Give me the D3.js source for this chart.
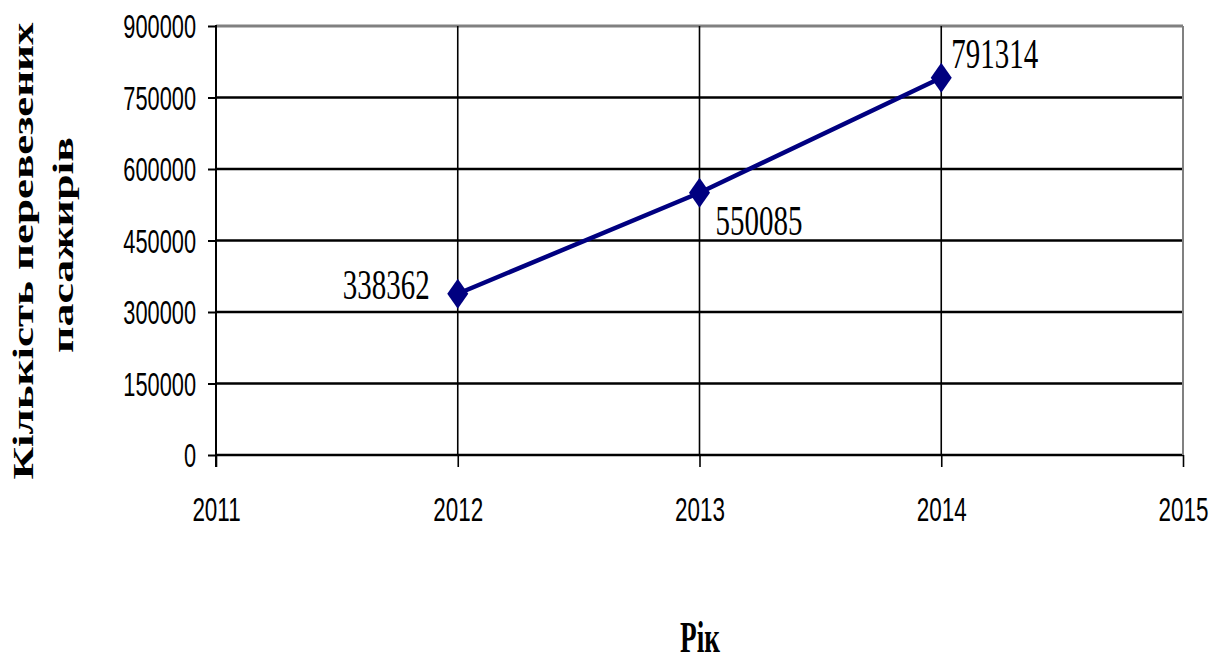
<!DOCTYPE html>
<html><head><meta charset="utf-8">
<script src="https://cdn.jsdelivr.net/npm/d3@7"></script>
<style>body{margin:0;background:#fff}</style>
</head><body>
<svg id="c" width="1222" height="664"></svg>
<script>
const years = [2012, 2013, 2014];
const passengers = [338362, 550085, 791314];
const xTicks = [2011, 2012, 2013, 2014, 2015];
const yTicks = [0, 150000, 300000, 450000, 600000, 750000, 900000];
const yTitleLines = ["Кількість перевезених", "пасажирів"];
const xTitle = "Рік";

const svg = d3.select("#c");
const L = 216, R = 1183, T = 26, B = 455;
const x = d3.scaleLinear().domain([2011, 2015]).range([L, R]);
const y = d3.scaleLinear().domain([0, 900000]).range([B, T]);

// horizontally condense a text element placed at (px,py) via transform
function condense(sel, k) {
  sel.each(function () {
    const s = d3.select(this);
    const px = +s.attr("x") || 0, py = +s.attr("y") || 0;
    s.attr("x", 0).attr("y", 0)
     .attr("transform", `translate(${px},${py}) scale(${k},1)`);
  });
}

// horizontal grid
svg.append("g").selectAll("line").data(yTicks).join("line")
  .attr("x1", L).attr("x2", R)
  .attr("y1", d => y(d)).attr("y2", d => y(d))
  .attr("stroke", d => d === 900000 ? "#808080" : "#000")
  .attr("stroke-width", d => d === 900000 ? 3 : 2.5);

// right border
svg.append("line").attr("x1", R).attr("x2", R).attr("y1", T).attr("y2", B)
  .attr("stroke", "#808080").attr("stroke-width", 2);

// vertical grid
svg.append("g").selectAll("line").data(years).join("line")
  .attr("x1", d => x(d)).attr("x2", d => x(d))
  .attr("y1", T).attr("y2", B)
  .attr("stroke", "#000").attr("stroke-width", 1.6);

// y axis
const gy = svg.append("g").attr("transform", `translate(${L},0)`)
  .call(d3.axisLeft(y).tickValues(yTicks).tickSize(8).tickPadding(12).tickFormat(d3.format("d")));
gy.select(".domain").remove();
gy.selectAll(".tick line").attr("stroke", "#000").attr("stroke-width", 2);
gy.append("line").attr("x1", 0).attr("x2", 0).attr("y1", T - 1).attr("y2", B + 12)
  .attr("stroke", "#000").attr("stroke-width", 2);
gy.selectAll(".tick text")
  .attr("font-family", "'Liberation Sans', Arial, sans-serif")
  .attr("font-size", 33).attr("fill", "#000").attr("dy", "0.36em")
  .call(condense, 0.66);

// x axis
const gx = svg.append("g").attr("transform", `translate(0,${B})`)
  .call(d3.axisBottom(x).tickValues(xTicks).tickSize(12).tickPadding(30).tickFormat(d3.format("d")));
gx.select(".domain").remove();
gx.selectAll(".tick line").attr("stroke", "#000").attr("stroke-width", 1.6);
gx.selectAll(".tick text")
  .attr("font-family", "'Liberation Sans', Arial, sans-serif")
  .attr("font-size", 34).attr("fill", "#000").attr("dy", "0.71em")
  .call(condense, 0.66);

// line
const pts = years.map((yr, i) => ({ yr, v: passengers[i] }));
svg.append("path").datum(pts)
  .attr("d", d3.line().x(d => x(d.yr)).y(d => y(d.v)))
  .attr("fill", "none").attr("stroke", "#000080").attr("stroke-width", 4.5);

// diamonds
svg.append("g").selectAll("path").data(pts).join("path")
  .attr("transform", d => `translate(${x(d.yr)},${y(d.v)})`)
  .attr("d", "M0,-15L10.5,0L0,15L-10.5,0Z")
  .attr("fill", "#000080");

// data labels
const lblOff = [{ dx: -28, dy: 5, a: "end" }, { dx: 16, dy: 42, a: "start" }, { dx: 10, dy: -10, a: "start" }];
svg.append("g").selectAll("text").data(pts).join("text")
  .attr("x", (d, i) => x(d.yr) + lblOff[i].dx)
  .attr("y", (d, i) => y(d.v) + lblOff[i].dy)
  .attr("text-anchor", (d, i) => lblOff[i].a)
  .attr("font-family", "'Liberation Serif', 'Times New Roman', serif")
  .attr("font-size", 42).attr("fill", "#000")
  .text(d => d.v)
  .call(condense, 0.69);

// y title
const ty = svg.append("text")
  .attr("transform", "rotate(-90)")
  .attr("font-family", "'Liberation Serif', 'Times New Roman', serif")
  .attr("font-weight", "bold").attr("font-size", 30).attr("fill", "#000")
  .attr("text-anchor", "middle");
ty.append("tspan").attr("x", -251).attr("y", 33).text(yTitleLines[0])
  .attr("textLength", 457).attr("lengthAdjust", "spacingAndGlyphs");
ty.append("tspan").attr("x", -245).attr("y", 73).text(yTitleLines[1])
  .attr("textLength", 216).attr("lengthAdjust", "spacingAndGlyphs");

// x title
svg.append("text").attr("x", 700).attr("y", 652)
  .attr("text-anchor", "middle")
  .attr("font-family", "'Liberation Serif', 'Times New Roman', serif")
  .attr("font-weight", "bold").attr("font-size", 44).attr("fill", "#000")
  .text(xTitle).call(condense, 0.62);
</script>
</body></html>
